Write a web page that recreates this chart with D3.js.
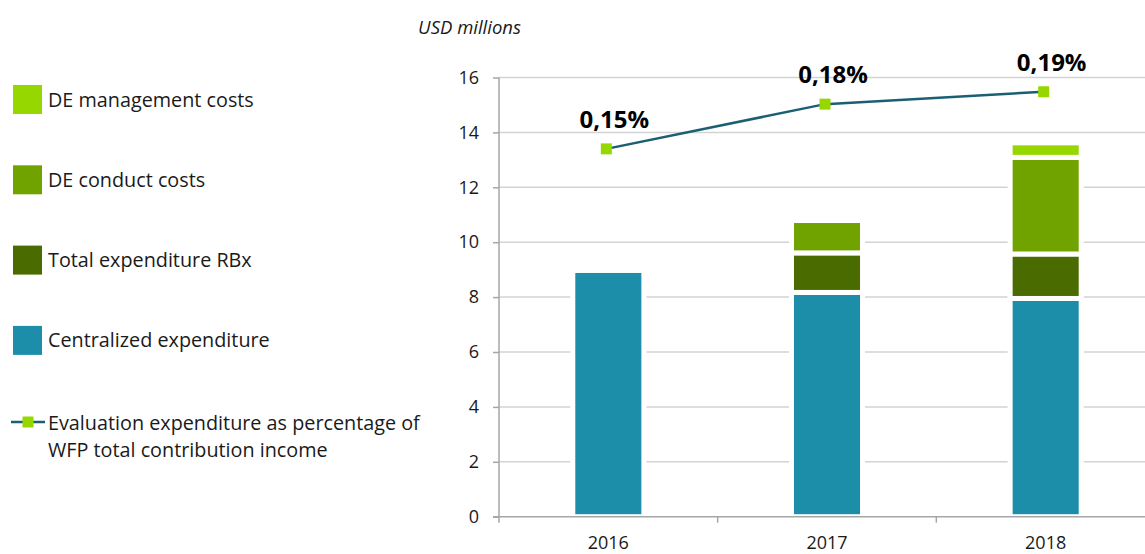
<!DOCTYPE html>
<html>
<head>
<meta charset="utf-8">
<script src="https://cdn.jsdelivr.net/npm/d3@7"></script>
<style>
  body { margin: 0; background: #fff; }
  text { font-family: "Open Sans", "Noto Sans", sans-serif; fill: #1a1a1a; }
</style>
</head>
<body>
<div id="chart"></div>
<script>
var years = ['2016', '2017', '2018'];
var centralized = [8.97, 8.17, 7.95];
var rbx = [0, 1.44, 1.62];
var conduct = [0, 1.18, 3.52];
var management = [0, 0, 0.53];
var lineValues = [13.40, 15.03, 15.48];
var pctLabels = ['0,15%', '0,18%', '0,19%'];
var yTicks = [0, 2, 4, 6, 8, 10, 12, 14, 16];

var seriesNames = ['Centralized expenditure', 'Total expenditure RBx', 'DE conduct costs', 'DE management costs'];
var seriesColors = ['#1c8eaa', '#4a6b00', '#71a300', '#97d700'];
var lineColor = '#1b5f73';

var width = 1145, height = 554;
var plot = {left: 499, right: 1155, top: 77.5, bottom: 516.7};

var svg = d3.select('#chart').append('svg')
    .attr('width', width)
    .attr('height', height);

var x = d3.scaleBand().domain(years).range([plot.left, plot.right]);
var y = d3.scaleLinear().domain([0, 16]).range([plot.bottom, plot.top]);
var barW = x.bandwidth() * 0.325;

// rows for stacking
var rows = years.map(function (yr, i) {
    return {year: yr, s0: centralized[i], s1: rbx[i], s2: conduct[i], s3: management[i]};
});
var keys = ['s0', 's1', 's2', 's3'];
var stacked = d3.stack().keys(keys)(rows);

// gridlines
svg.append('g').selectAll('line')
    .data(yTicks.filter(function (d) { return d > 0; }))
    .enter().append('line')
    .attr('x1', plot.left).attr('x2', plot.right)
    .attr('y1', function (d) { return y(d); })
    .attr('y2', function (d) { return y(d); })
    .style('stroke', '#d3d3d3')
    .style('stroke-width', 1.5);

// bars
var layer = svg.selectAll('.layer')
    .data(stacked)
    .enter().append('g')
    .attr('class', 'layer')
    .style('fill', function (d, i) { return seriesColors[i]; });

layer.selectAll('rect')
    .data(function (d) { return d.filter(function (p) { return p[1] - p[0] > 0; }); })
    .enter().append('rect')
    .attr('x', function (d) { return x(d.data.year) + x.bandwidth() / 2 - barW / 2; })
    .attr('width', barW)
    .attr('y', function (d) { return y(d[1]); })
    .attr('height', function (d) { return y(d[0]) - y(d[1]); })
    .style('stroke', '#fff')
    .style('stroke-width', 5);

// axes
var yAxis = svg.append('g')
    .attr('transform', 'translate(' + plot.left + ',0)')
    .call(d3.axisLeft(y).tickValues(yTicks).tickSize(6).tickPadding(14).tickFormat(d3.format('d')));
yAxis.select('.domain').remove();
yAxis.append('line')
    .attr('x1', 0).attr('x2', 0)
    .attr('y1', plot.top).attr('y2', plot.bottom + 6)
    .style('stroke', '#a6a6a6').style('stroke-width', 1.5);

var xAxis = svg.append('g')
    .attr('transform', 'translate(0,' + plot.bottom + ')');
xAxis.append('line')
    .attr('x1', plot.left - 6).attr('x2', plot.right)
    .style('stroke', '#a6a6a6').style('stroke-width', 1.5);
xAxis.selectAll('.sep')
    .data(years.slice(1))
    .enter().append('line')
    .attr('class', 'sep')
    .attr('x1', function (d) { return x(d); })
    .attr('x2', function (d) { return x(d); })
    .attr('y1', 0).attr('y2', 6)
    .style('stroke', '#a6a6a6').style('stroke-width', 1.5);
xAxis.selectAll('.yr')
    .data(years)
    .enter().append('text')
    .attr('class', 'yr')
    .attr('x', function (d) { return x(d) + x.bandwidth() / 2; })
    .attr('y', 32)
    .attr('text-anchor', 'middle')
    .style('font-size', '18px')
    .text(function (d) { return d; });

yAxis.selectAll('.tick line').style('stroke', '#a6a6a6').style('stroke-width', 1.5);
yAxis.selectAll('.tick text').style('font-size', '18px').style('fill', '#1a1a1a');

svg.append('text')
    .attr('x', 521).attr('y', 34)
    .attr('text-anchor', 'end')
    .style('font-size', '18.5px')
    .style('font-style', 'italic')
    .text('USD millions');

// line series
var lx = function (i) { return x(years[i]) + x.bandwidth() / 2 - 2; };
var line = d3.line()
    .x(function (d, i) { return lx(i); })
    .y(function (d) { return y(d); });

svg.append('path')
    .datum(lineValues)
    .attr('d', line)
    .style('fill', 'none')
    .style('stroke', lineColor)
    .style('stroke-width', 2.5);

svg.selectAll('.marker')
    .data(lineValues)
    .enter().append('rect')
    .attr('class', 'marker')
    .attr('x', function (d, i) { return lx(i) - 5.5; })
    .attr('y', function (d) { return y(d) - 5.5; })
    .attr('width', 11).attr('height', 11)
    .style('fill', '#97d700');

svg.selectAll('.pct')
    .data(lineValues)
    .enter().append('text')
    .attr('class', 'pct')
    .attr('x', function (d, i) { return lx(i) + 8; })
    .attr('y', function (d) { return y(d) - 21; })
    .attr('text-anchor', 'middle')
    .style('font-size', '24px')
    .style('font-weight', 'bold')
    .style('fill', '#000')
    .text(function (d, i) { return pctLabels[i]; });

// legend
var legendOrder = [3, 2, 1, 0];
var legend = svg.selectAll('.legend')
    .data(legendOrder)
    .enter().append('g')
    .attr('class', 'legend')
    .attr('transform', function (d, i) { return 'translate(13,' + (99.5 + i * 80.3) + ')'; });
legend.append('rect')
    .attr('x', 0).attr('y', -14.5)
    .attr('width', 29).attr('height', 29)
    .style('fill', function (d) { return seriesColors[d]; });
legend.append('text')
    .attr('x', 35).attr('y', 7)
    .style('font-size', '19.8px')
    .text(function (d) { return seriesNames[d]; });

var ll = svg.append('g').attr('transform', 'translate(11,422)');
ll.append('line').attr('x1', 0).attr('x2', 34)
    .style('stroke', lineColor).style('stroke-width', 2.5);
ll.append('rect').attr('x', 11.5).attr('y', -5.5).attr('width', 11).attr('height', 11)
    .style('fill', '#97d700');
ll.append('text').attr('x', 37).attr('y', 8)
    .style('font-size', '19.8px')
    .text('Evaluation expenditure as percentage of');
ll.append('text').attr('x', 37).attr('y', 35)
    .style('font-size', '19.8px')
    .text('WFP total contribution income');
</script>
</body>
</html>
